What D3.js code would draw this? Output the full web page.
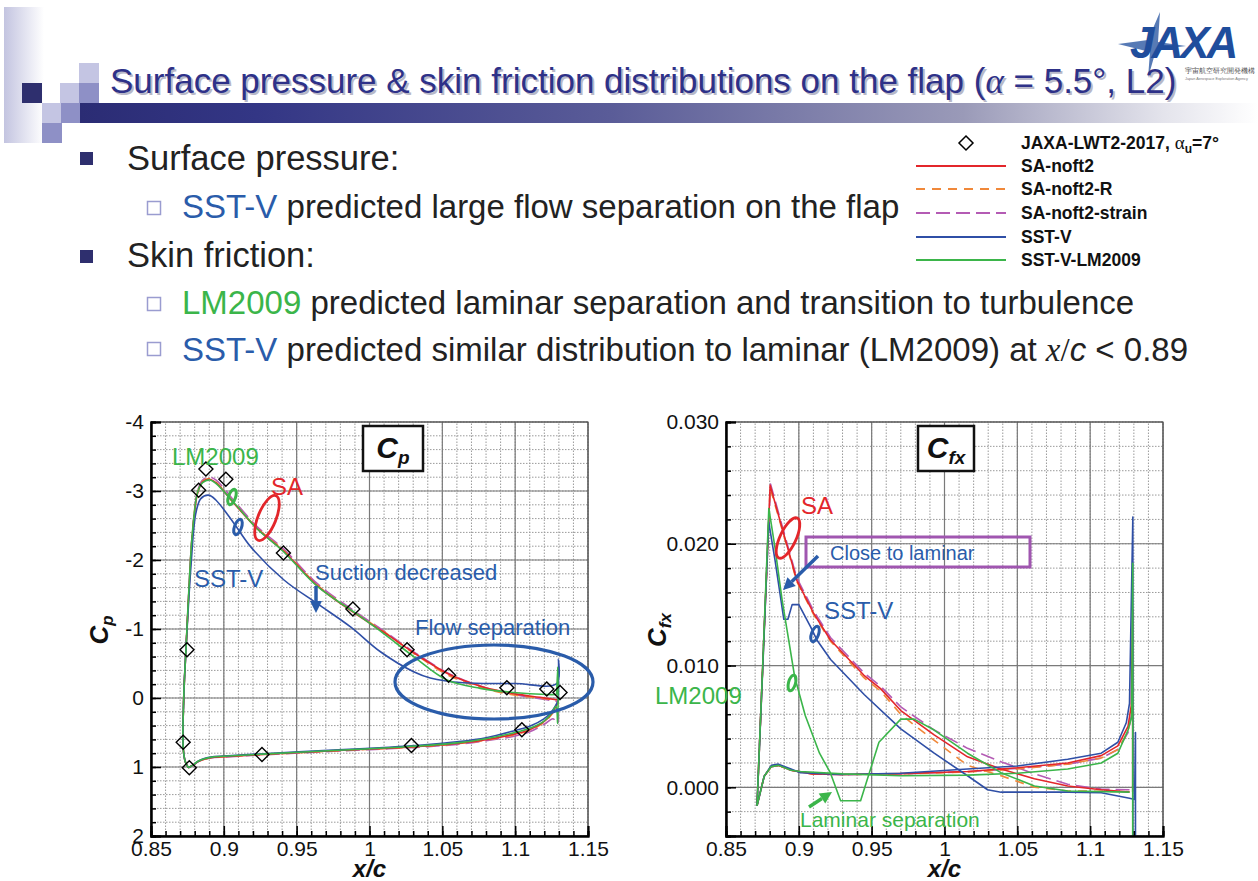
<!DOCTYPE html>
<html>
<head>
<meta charset="utf-8">
<title>Surface pressure and skin friction on the flap</title>
<style>
  body { margin: 0; background: #fff; }
  svg text { font-family: "Liberation Sans", Arial, sans-serif; }
</style>
</head>
<body>
<script src="https://cdn.jsdelivr.net/npm/d3@7/dist/d3.min.js"></script>
<script>
// ---- data ----
var xTicks = [0.85, 0.9, 0.95, 1, 1.05, 1.1, 1.15];
var cpTicks = [-4, -3, -2, -1, 0, 1, 2];
var cfTicks = [0.000, 0.010, 0.020, 0.030];

var seriesNames = ["JAXA-LWT2-2017", "SA-noft2", "SA-noft2-R", "SA-noft2-strain", "SST-V", "SST-V-LM2009"];
var seriesColors = ["#000", "#e3262b", "#f0883a", "#b45bb4", "#2f4fa6", "#3bb54a"];
var seriesDash = [null, null, "9,7", "14,6", null, null];

// experiment (Cp only)
var cpExp = [[0.8877,-3.32],[0.8827,-3.01],[0.9014,-3.17],[0.9409,-2.10],[0.9886,-1.29],[1.0258,-0.70],
  [1.0543,-0.33],[1.0943,-0.15],[1.1217,-0.13],[1.1308,-0.08],[0.8747,-0.70],[0.8721,0.64],
  [0.8763,1.01],[0.9262,0.82],[1.0288,0.69],[1.1046,0.46]];

// Cp, upper surface (leading edge -> trailing edge) and lower surface
var cpSAUpper = [[0.8756,1.01],[0.8735,0.92],[0.8722,0.75],[0.8719,0.5],[0.8722,0.2],[0.8728,-0.2],[0.874,-0.7],
  [0.8763,-1.66],[0.8785,-2.39],[0.882,-2.97],[0.8854,-3.13],[0.890,-3.17],[0.8945,-3.12],[0.907,-2.82],
  [0.923,-2.45],[0.941,-2.13],[0.964,-1.63],[0.989,-1.24],[1.01,-0.95],[1.033,-0.62],[1.055,-0.34],
  [1.078,-0.16],[1.10,-0.06],[1.117,-0.01],[1.1297,0.03]];
var cpSALower = [[0.8756,1.01],[0.879,0.97],[0.882,0.925],[0.886,0.89],[0.891,0.865],[0.9,0.85],[0.93,0.815],
  [0.975,0.765],[1.0,0.74],[1.02,0.72],[1.04,0.695],[1.06,0.66],[1.08,0.605],[1.10,0.52],[1.11,0.46],
  [1.12,0.34],[1.125,0.23],[1.128,0.12],[1.1297,0.03]];
var cpSARUpper = [[0.8756,1.01],[0.8735,0.92],[0.8722,0.75],[0.8719,0.5],[0.8722,0.2],[0.8728,-0.2],[0.874,-0.7],
  [0.8763,-1.67],[0.8785,-2.40],[0.882,-2.98],[0.8854,-3.14],[0.890,-3.18],[0.8945,-3.13],[0.907,-2.83],
  [0.923,-2.46],[0.941,-2.14],[0.964,-1.64],[0.989,-1.25],[1.01,-0.96],[1.033,-0.61],[1.055,-0.32],
  [1.078,-0.14],[1.10,-0.04],[1.117,0.0],[1.1297,0.04]];
var cpSARLower = [[0.8756,1.01],[0.879,0.97],[0.882,0.925],[0.886,0.89],[0.891,0.865],[0.9,0.85],[0.93,0.817],
  [0.975,0.768],[1.0,0.743],[1.02,0.723],[1.04,0.698],[1.06,0.665],[1.08,0.61],[1.10,0.53],[1.11,0.47],
  [1.12,0.35],[1.125,0.24],[1.128,0.13],[1.1297,0.04]];
var cpStrainUpper = [[0.8756,1.01],[0.8735,0.92],[0.8722,0.75],[0.8719,0.5],[0.8722,0.2],[0.8728,-0.2],[0.874,-0.7],
  [0.8763,-1.68],[0.8785,-2.42],[0.882,-3.00],[0.8854,-3.16],[0.890,-3.20],[0.8945,-3.16],[0.907,-2.86],
  [0.923,-2.48],[0.941,-2.16],[0.964,-1.66],[0.989,-1.27],[1.01,-0.97],[1.033,-0.63],[1.055,-0.35],
  [1.078,-0.16],[1.10,-0.05],[1.117,0.01],[1.1297,0.05]];
var cpStrainLower = [[0.8756,1.01],[0.879,0.975],[0.882,0.93],[0.886,0.895],[0.891,0.87],[0.9,0.855],[0.93,0.822],
  [0.975,0.772],[1.0,0.748],[1.02,0.728],[1.04,0.705],[1.06,0.672],[1.08,0.62],[1.10,0.55],[1.11,0.49],
  [1.12,0.38],[1.126,0.30],[1.1292,0.37],[1.1292,0.05]];
var cpSSTUpper = [[0.8756,1.01],[0.8735,0.92],[0.8722,0.75],[0.8719,0.5],[0.8722,0.2],[0.8728,-0.2],[0.874,-0.7],
  [0.8774,-1.90],[0.8808,-2.68],[0.8842,-2.89],[0.8895,-2.94],[0.8945,-2.87],[0.907,-2.53],[0.9185,-2.19],
  [0.9413,-1.71],[0.964,-1.37],[0.987,-1.03],[1.0075,-0.67],[1.0303,-0.38],[1.0417,-0.29],[1.0646,-0.22],
  [1.10,-0.21],[1.1285,-0.21],[1.1297,-0.56],[1.1297,0.03]];
var cpSSTLower = [[0.8756,1.01],[0.879,0.97],[0.882,0.92],[0.886,0.88],[0.891,0.855],[0.9,0.84],[0.93,0.805],
  [0.975,0.755],[1.0,0.73],[1.02,0.705],[1.04,0.675],[1.06,0.635],[1.08,0.575],[1.10,0.47],[1.11,0.41],
  [1.12,0.30],[1.125,0.20],[1.128,0.10],[1.1297,0.03]];
var cpLMUpper = [[0.8756,1.01],[0.8735,0.92],[0.8722,0.75],[0.8719,0.5],[0.8722,0.2],[0.8728,-0.2],[0.874,-0.7],
  [0.8763,-1.70],[0.8785,-2.42],[0.882,-2.98],[0.8854,-3.12],[0.8905,-3.16],[0.8945,-3.11],[0.907,-2.83],
  [0.923,-2.45],[0.941,-2.12],[0.964,-1.62],[0.989,-1.25],[1.01,-0.93],[1.0303,-0.60],[1.0532,-0.26],
  [1.076,-0.14],[1.0988,-0.08],[1.1217,-0.05],[1.1285,-0.05]];
var cpLMLower = [[0.8756,1.01],[0.879,0.97],[0.882,0.92],[0.886,0.885],[0.891,0.86],[0.9,0.845],[0.93,0.81],
  [0.975,0.76],[1.0,0.735],[1.02,0.713],[1.04,0.687],[1.06,0.65],[1.08,0.59],[1.10,0.50],[1.11,0.44],
  [1.12,0.33],[1.125,0.22],[1.128,0.12],[1.1292,0.37],[1.1292,-0.45],[1.1285,-0.05]];

// Cfx, upper and lower surface
var cfSAUpper = [[0.8713,-0.0015],[0.8758,0.0117],[0.8803,0.0248],[0.8894,0.0209],[0.8986,0.0170],[0.9101,0.0143],
  [0.9217,0.0121],[0.9447,0.0092],[0.9561,0.0081],[0.970,0.0063],[0.9929,0.0043],[1.0158,0.0025],[1.0388,0.0015],
  [1.0617,0.0007],[1.0846,0.0001],[1.1076,-0.0002],[1.127,-0.0004]];
var cfSALower = [[0.8713,-0.0015],[0.8762,0.0009],[0.8811,0.0017],[0.886,0.0018],[0.8946,0.0014],[0.9093,0.0011],
  [0.93,0.00105],[0.97,0.00112],[1.0158,0.0013],[1.05,0.0016],[1.0846,0.0020],[1.1076,0.0026],[1.119,0.0034],
  [1.126,0.0050],[1.1282,0.0067],[1.1292,0.0146],[1.1292,-0.0004]];
var cfSARUpper = [[0.8713,-0.0015],[0.8758,0.0116],[0.8803,0.0246],[0.8894,0.0208],[0.8986,0.0169],[0.9101,0.0142],
  [0.9217,0.0120],[0.9447,0.0090],[0.9561,0.0079],[0.970,0.0060],[0.9814,0.0049],[1.0158,0.0018],[1.0388,0.00095],
  [1.0617,0.0],[1.0846,-0.0003],[1.127,-0.00036]];
var cfSARLower = [[0.8713,-0.0015],[0.8762,0.0009],[0.8811,0.0017],[0.886,0.0018],[0.8946,0.0014],[0.9093,0.0011],
  [0.93,0.00105],[0.97,0.0011],[1.0158,0.00125],[1.05,0.0015],[1.0846,0.0019],[1.1076,0.0024],[1.119,0.0031],
  [1.126,0.0046],[1.1285,0.0062]];
var cfStrainUpper = [[0.8713,-0.0015],[0.8758,0.0118],[0.8806,0.0249],[0.8894,0.0211],[0.8986,0.0172],[0.9101,0.0145],
  [0.9217,0.0123],[0.9447,0.0094],[0.9561,0.0083],[0.970,0.0066],[0.9929,0.0047],[1.0158,0.0032],[1.0388,0.0021],
  [1.0617,0.0011],[1.0846,0.00025],[1.1076,-0.00015],[1.127,-0.0002]];
var cfStrainLower = [[0.8713,-0.0015],[0.8762,0.0009],[0.8811,0.0017],[0.886,0.0018],[0.8946,0.0014],[0.9093,0.0011],
  [0.93,0.00103],[0.97,0.0011],[1.0158,0.00128],[1.05,0.00155],[1.0846,0.0019],[1.1076,0.0024],[1.119,0.0031],
  [1.126,0.0045],[1.1285,0.0060]];
var cfSSTUpper = [[0.8713,-0.0015],[0.8753,0.0100],[0.8793,0.0218],[0.8836,0.0187],[0.8897,0.0138],[0.8925,0.0138],
  [0.8954,0.0150],[0.9000,0.0150],[0.9080,0.0132],[0.9124,0.0121],[0.9218,0.0105],[0.9450,0.0076],[0.970,0.0048],
  [0.9929,0.0028],[1.0158,0.00095],[1.0296,-0.0002],[1.0388,-0.0004],[1.0846,-0.0004],[1.1076,-0.00045],
  [1.127,-0.0009],[1.1305,-0.001],[1.1311,0.0045],[1.1311,-0.006]];
var cfSSTLower = [[0.8713,-0.0015],[0.8762,0.0009],[0.8811,0.0018],[0.886,0.0019],[0.8946,0.0015],[0.9011,0.0012],
  [0.93,0.00105],[0.97,0.00115],[1.0158,0.0015],[1.05,0.00175],[1.0846,0.0023],[1.1076,0.0028],[1.119,0.0037],
  [1.1248,0.0053],[1.127,0.0069],[1.1293,0.0222],[1.1293,-0.006]];
var cfLMUpper = [[0.8713,-0.0015],[0.8752,0.0100],[0.8794,0.0229],[0.8836,0.0197],[0.8885,0.0154],[0.8922,0.0127],
  [0.8971,0.0091],[0.9044,0.0059],[0.9142,0.0028],[0.9216,0.0012],[0.9287,-0.0011],[0.9424,-0.0011],[0.955,0.0037],
  [0.970,0.0056],[0.9791,0.0056],[0.9929,0.0047],[1.0158,0.0028],[1.0388,0.0012],[1.0617,0.0001],[1.0846,-0.0003],
  [1.127,-0.0004]];
var cfLMLower = [[0.8713,-0.0015],[0.8762,0.0009],[0.8811,0.0017],[0.886,0.0018],[0.8946,0.0014],[0.9011,0.0013],
  [0.93,0.0011],[0.97,0.00095],[1.0158,0.0010],[1.05,0.00115],[1.0846,0.0015],[1.1076,0.0020],[1.119,0.0028],
  [1.126,0.0047],[1.1285,0.0058],[1.1292,0.0184],[1.1292,-0.006]];

var cpLines = [cpStrainUpper, cpStrainLower, cpSARUpper, cpSARLower, cpSAUpper, cpSALower, cpSSTUpper, cpSSTLower, cpLMUpper, cpLMLower];
var cfLines = [cfStrainUpper, cfStrainLower, cfSARUpper, cfSARLower, cfSAUpper, cfSALower, cfSSTUpper, cfSSTLower, cfLMUpper, cfLMLower];
var lineSeries = [3, 3, 2, 2, 1, 1, 4, 4, 5, 5];

var diamond = "M0,-7L7,0L0,7L-7,0Z";

// ---- page ----
var svg = d3.select("body").append("svg")
    .attr("width", 1258)
    .attr("height", 881);

var defs = svg.append("defs");
var barGrad = defs.append("linearGradient").attr("id", "bar");
barGrad.append("stop").attr("offset", "0%").attr("stop-color", "#2b2c74");
barGrad.append("stop").attr("offset", "15%").attr("stop-color", "#333685");
barGrad.append("stop").attr("offset", "45%").attr("stop-color", "#5a5c98");
barGrad.append("stop").attr("offset", "75%").attr("stop-color", "#9a9ab8");
barGrad.append("stop").attr("offset", "92%").attr("stop-color", "#e4e4ec");
barGrad.append("stop").attr("offset", "100%").attr("stop-color", "#ffffff");
var stripGrad = defs.append("linearGradient").attr("id", "strip");
stripGrad.append("stop").attr("offset", "0%").attr("stop-color", "#c3c4e0");
stripGrad.append("stop").attr("offset", "100%").attr("stop-color", "#ffffff");

// decorative corner
svg.append("rect").attr("x", 4).attr("y", 7).attr("width", 40).attr("height", 136).attr("fill", "url(#strip)");
var squares = [[22,83,"#2e2f6e"],[60,83,"#c4c5e3"],[79,63,"#c4c5e3"],[79,83,"#8e90c6"],
  [42,103,"#c4c5e3"],[61,103,"#8e90c6"],[42,123,"#8e90c6"]];
squares.forEach(function(s) {
  svg.append("rect").attr("x", s[0]).attr("y", s[1]).attr("width", 20).attr("height", 20).attr("fill", s[2]);
});
svg.append("rect").attr("x", 80).attr("y", 103).attr("width", 1178).attr("height", 20).attr("fill", "url(#bar)");

// JAXA logo
var logo = svg.append("g");
logo.append("rect").attr("x", 1114).attr("y", 4).attr("width", 144).attr("height", 84).attr("fill", "#fff");
logo.append("path").attr("d", "M1118,44 L1148,40 L1160,12 L1158,42 L1186,46 L1156,50 L1148,78 L1150,52 Z")
  .attr("fill", "#1f4d9c").attr("opacity", 0.75);
logo.append("text").attr("x", 1130).attr("y", 58).attr("font-size", 44).attr("font-weight", "bold")
  .attr("font-style", "italic").attr("fill", "#1f4d9c").attr("letter-spacing", -3).text("JAXA");
logo.append("text").attr("x", 1185).attr("y", 73).attr("font-size", 6.5).attr("fill", "#555")
  .attr("font-family", "Noto Sans CJK JP").text("宇宙航空研究開発機構");
logo.append("text").attr("x", 1185).attr("y", 80).attr("font-size", 3.8).attr("fill", "#777")
  .text("Japan Aerospace Exploration Agency");

// title
function titleText(g, fill) {
  var t = g.append("text").attr("font-size", 35).attr("fill", fill);
  t.append("tspan").text("Surface pressure & skin friction distributions on the flap (");
  t.append("tspan").attr("font-family", "Liberation Serif, serif").attr("font-style", "italic").text("\u03b1");
  t.append("tspan").text(" = 5.5\u00b0, L2)");
  return t;
}
titleText(svg, "#b8b8c8").attr("x", 112).attr("y", 95);
titleText(svg, "#2e3188").attr("x", 110).attr("y", 93);

// bullets
var ink = "#222";
var blueTxt = "#2a5caa";
var greenTxt = "#3bb54a";
svg.append("rect").attr("x", 80).attr("y", 152).attr("width", 13).attr("height", 13).attr("fill", "#2e2f6e");
svg.append("rect").attr("x", 80).attr("y", 250).attr("width", 13).attr("height", 13).attr("fill", "#2e2f6e");
[201, 297, 342].forEach(function(y) {
  svg.append("rect").attr("x", 147.5).attr("y", y + 0.5).attr("width", 13).attr("height", 13)
    .attr("fill", "#fff").attr("stroke", "#9a9cd0").attr("stroke-width", 1.5);
});
svg.append("text").attr("x", 127).attr("y", 170).attr("font-size", 34.5).attr("fill", ink).text("Surface pressure:");
svg.append("text").attr("x", 127).attr("y", 267).attr("font-size", 34.5).attr("fill", ink).text("Skin friction:");

var l1 = svg.append("text").attr("x", 182).attr("y", 218).attr("font-size", 33).attr("fill", ink);
l1.append("tspan").attr("fill", blueTxt).text("SST-V");
l1.append("tspan").text(" predicted large flow separation on the flap");
var l2 = svg.append("text").attr("x", 182).attr("y", 314).attr("font-size", 33).attr("fill", ink);
l2.append("tspan").attr("fill", greenTxt).text("LM2009");
l2.append("tspan").text(" predicted laminar separation and transition to turbulence");
var l3 = svg.append("text").attr("x", 182).attr("y", 361).attr("font-size", 33).attr("fill", ink);
l3.append("tspan").attr("fill", blueTxt).text("SST-V");
l3.append("tspan").text(" predicted similar distribution to laminar (LM2009) at ");
l3.append("tspan").attr("font-family", "Liberation Serif, serif").attr("font-style", "italic").text("x");
l3.append("tspan").attr("font-family", "Liberation Serif, serif").text("/");
l3.append("tspan").attr("font-style", "italic").text("c");
l3.append("tspan").text(" < 0.89");

// legend
var leg = svg.append("g").attr("font-size", 17.5).attr("font-weight", "bold").attr("fill", "#111");
leg.append("rect").attr("x", 906).attr("y", 128).attr("width", 352).attr("height", 142).attr("fill", "#fff");
var legY = [143, 166, 189, 213, 237, 260];
seriesNames.forEach(function(name, i) {
  if (i === 0) {
    leg.append("path").attr("d", diamond)
      .attr("transform", "translate(966," + legY[i] + ")")
      .attr("fill", "none").attr("stroke", "#000").attr("stroke-width", 1.5);
    var t = leg.append("text").attr("x", 1021).attr("y", legY[i] + 6);
    t.append("tspan").text("JAXA-LWT2-2017, ");
    t.append("tspan").attr("font-weight", "normal").attr("font-family", "Liberation Serif, serif")
      .attr("font-size", 19).text("\u03b1");
    t.append("tspan").attr("font-size", 12).attr("dy", 4).text("u");
    t.append("tspan").attr("dy", -4).text("=7\u00b0");
  } else {
    leg.append("line").attr("x1", 916).attr("x2", 1006).attr("y1", legY[i]).attr("y2", legY[i])
      .attr("stroke", seriesColors[i]).attr("stroke-width", 2).attr("stroke-dasharray", seriesDash[i]);
    leg.append("text").attr("x", 1021).attr("y", legY[i] + 6).text(name);
  }
});

// ---- plots ----
function makePlot(opt) {
  var g = svg.append("g");
  var x = d3.scaleLinear().domain([0.85, 1.15]).range([opt.left, opt.left + 437]);
  var y = d3.scaleLinear().domain(opt.yDomain).range([836, 422]);
  var x0 = x.range()[0], x1 = x.range()[1], y0 = 836, y1 = 422;

  g.append("rect").attr("x", x0).attr("y", y1).attr("width", x1 - x0).attr("height", y0 - y1).attr("fill", "#fff");
  var minorX = d3.range(0, 31).map(function(i) { return 0.85 + i * 0.01; });
  var minorY = d3.range(0, opt.minorN + 1).map(function(i) { return opt.yDomain[0] + i * opt.minorStep; });
  g.selectAll(null).data(minorX).enter().append("line")
    .attr("x1", x).attr("x2", x).attr("y1", y0).attr("y2", y1)
    .attr("stroke", "#9a9a9a").attr("stroke-width", 1).attr("stroke-dasharray", "1.5,1.5");
  g.selectAll(null).data(minorY).enter().append("line")
    .attr("y1", y).attr("y2", y).attr("x1", x0).attr("x2", x1)
    .attr("stroke", "#9a9a9a").attr("stroke-width", 1).attr("stroke-dasharray", "1.5,1.5");
  g.selectAll(null).data(xTicks).enter().append("line")
    .attr("x1", x).attr("x2", x).attr("y1", y0).attr("y2", y1)
    .attr("stroke", "#7a7a7a").attr("stroke-width", 1.2);
  g.selectAll(null).data(opt.yTicks).enter().append("line")
    .attr("y1", y).attr("y2", y).attr("x1", x0).attr("x2", x1)
    .attr("stroke", "#7a7a7a").attr("stroke-width", 1.2);

  // curves
  var clipId = "clip" + opt.left;
  defs.append("clipPath").attr("id", clipId).append("rect")
    .attr("x", x0).attr("y", y1).attr("width", x1 - x0).attr("height", y0 - y1);
  var line = d3.line().x(function(d) { return x(d[0]); }).y(function(d) { return y(d[1]); })
    .curve(opt.curve);
  var lines = g.append("g").attr("clip-path", "url(#" + clipId + ")");
  opt.lines.forEach(function(pts, i) {
    var s = lineSeries[i];
    lines.append("path").datum(pts).attr("d", line).attr("fill", "none")
      .attr("stroke", seriesColors[s]).attr("stroke-width", 1.6)
      .attr("stroke-dasharray", seriesDash[s]).attr("stroke-linejoin", "round");
  });
  if (opt.exp) {
    g.selectAll(null).data(opt.exp).enter().append("path")
      .attr("d", diamond)
      .attr("transform", function(d) { return "translate(" + x(d[0]) + "," + y(d[1]) + ")"; })
      .attr("fill", "none").attr("stroke", "#000").attr("stroke-width", 1.4);
  }

  // frame and axes
  g.append("rect").attr("x", x0).attr("y", y1).attr("width", x1 - x0).attr("height", y0 - y1)
    .attr("fill", "none").attr("stroke", "#444").attr("stroke-width", 1);
  var ax = g.append("g").attr("transform", "translate(0," + y0 + ")")
    .call(d3.axisBottom(x).tickValues(xTicks).tickSize(-10).tickPadding(5)
      .tickFormat(function(d) { return String(+d.toFixed(2)); }));
  g.append("g").attr("transform", "translate(0," + y0 + ")")
    .call(d3.axisBottom(x).tickValues(minorX).tickSize(-5).tickFormat(""));
  var ay = g.append("g").attr("transform", "translate(" + x0 + ",0)")
    .call(d3.axisLeft(y).tickValues(opt.yTicks).tickSize(-10).tickPadding(7).tickFormat(opt.fmt));
  g.append("g").attr("transform", "translate(" + x0 + ",0)")
    .call(d3.axisLeft(y).tickValues(minorY).tickSize(-5).tickFormat(""));
  g.selectAll(".domain").attr("stroke", "#000").attr("stroke-width", 2);
  g.selectAll(".tick line").attr("stroke", "#000").attr("stroke-width", 1.5);
  [ax, ay].forEach(function(a) {
    a.selectAll("text").attr("font-size", 21).attr("fill", "#111")
      .attr("font-family", "Liberation Sans, Arial, sans-serif");
  });

  // label box in the corner
  g.append("rect").attr("x", opt.boxX).attr("y", 426).attr("width", opt.boxW).attr("height", 45)
    .attr("fill", "#fff").attr("stroke", "#111").attr("stroke-width", 2.5);
  var bt = g.append("text").attr("x", opt.boxX + opt.boxW / 2).attr("y", 458).attr("text-anchor", "middle")
    .attr("font-family", "Liberation Serif, serif").attr("font-weight", "bold").attr("font-style", "italic")
    .attr("font-size", 30).attr("fill", "#111");
  bt.append("tspan").text("C");
  bt.append("tspan").attr("font-size", 19).attr("dy", 6).text(opt.sub);

  // axis titles
  var yt = g.append("text").attr("transform", "translate(" + opt.ytX + ",630) rotate(-90)")
    .attr("text-anchor", "middle").attr("font-family", "Liberation Serif, serif").attr("font-weight", "bold")
    .attr("font-style", "italic").attr("font-size", 26).attr("fill", "#111");
  yt.append("tspan").text("C");
  yt.append("tspan").attr("font-size", 17).attr("dy", 5).text(opt.sub);
  g.append("text").attr("x", (x0 + x1) / 2).attr("y", 877).attr("text-anchor", "middle")
    .attr("font-family", "Liberation Serif, serif").attr("font-weight", "bold").attr("font-style", "italic")
    .attr("font-size", 24).attr("fill", "#111").text("x/c");
  return { g: g, x: x, y: y };
}

var cp = makePlot({
  left: 151, yDomain: [2, -4], yTicks: cpTicks, minorStep: -0.2, minorN: 30,
  fmt: function(d) { return String(d); }, lines: cpLines, exp: cpExp,
  curve: d3.curveCatmullRom.alpha(0.5), boxX: 363, boxW: 60, sub: "p", ytX: 108
});
var cf = makePlot({
  left: 726, yDomain: [-0.004, 0.030], yTicks: cfTicks, minorStep: 0.002, minorN: 17,
  fmt: d3.format(".3f"), lines: cfLines, exp: null,
  curve: d3.curveLinear, boxX: 918, boxW: 56, sub: "fx", ytX: 666
});

// ---- annotations ----
var ann = svg.append("g").attr("font-family", "Liberation Sans, Arial, sans-serif");
function label(x, y, size, color, txt) {
  ann.append("text").attr("x", x).attr("y", y).attr("font-size", size).attr("fill", color).text(txt);
}
function loop(cx, cy, rx, ry, rot, color, w) {
  ann.append("ellipse").attr("cx", 0).attr("cy", 0).attr("rx", rx).attr("ry", ry)
    .attr("transform", "translate(" + cx + "," + cy + ") rotate(" + rot + ")")
    .attr("fill", "none").attr("stroke", color).attr("stroke-width", w);
}
function arrow(xa, ya, xb, yb, color) {
  var a = Math.atan2(yb - ya, xb - xa), L = 12, W = 6;
  var bx = xb - L * Math.cos(a), by = yb - L * Math.sin(a);
  ann.append("line").attr("x1", xa).attr("y1", ya).attr("x2", bx).attr("y2", by)
    .attr("stroke", color).attr("stroke-width", 3.5);
  ann.append("path").attr("d", "M" + xb + "," + yb +
      "L" + (bx + W * Math.sin(a)) + "," + (by - W * Math.cos(a)) +
      "L" + (bx - W * Math.sin(a)) + "," + (by + W * Math.cos(a)) + "Z")
    .attr("fill", color);
}
var red = "#e3262b";
// left plot
label(172, 465, 24, greenTxt, "LM2009");
label(271, 495, 24, red, "SA");
loop(267, 518, 9, 24, 22, red, 2.8);
loop(232, 497, 3.5, 8, 20, greenTxt, 3);
loop(238, 527, 3.5, 8, 20, blueTxt, 3);
label(194, 587, 24, blueTxt, "SST-V");
label(315, 580, 22, blueTxt, "Suction decreased");
arrow(316, 586, 316, 613, blueTxt);
label(415, 635, 22, blueTxt, "Flow separation");
loop(494, 682, 99, 37, 0, blueTxt, 3.2);
// right plot
label(801, 514, 24, red, "SA");
loop(788, 538, 8, 22, 25, red, 2.8);
ann.append("rect").attr("x", 806).attr("y", 537).attr("width", 224).attr("height", 30)
  .attr("fill", "none").attr("stroke", "#a056b0").attr("stroke-width", 3);
label(830, 560, 20, blueTxt, "Close to laminar");
arrow(818, 556, 783, 590, blueTxt);
label(824, 619, 24, blueTxt, "SST-V");
loop(815, 634, 3.5, 8, 20, blueTxt, 3);
loop(792, 683, 3.5, 8, 15, greenTxt, 3);
label(655, 704, 24, greenTxt, "LM2009");
label(800, 827, 21, greenTxt, "Laminar separation");
arrow(809, 807, 832, 792, greenTxt);
</script>
</body>
</html>
